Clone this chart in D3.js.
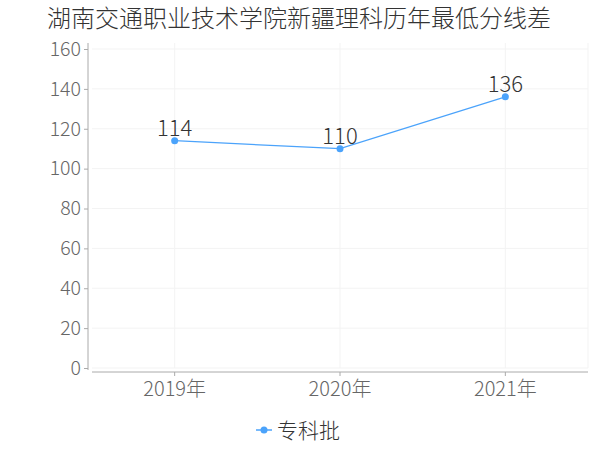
<!DOCTYPE html>
<html><head><meta charset="utf-8">
<script src="https://cdn.jsdelivr.net/npm/d3@7/dist/d3.min.js"></script>
<style>body{margin:0;background:#fff;}svg{display:block;font-family:"Noto Sans CJK SC","Noto Sans",sans-serif;}</style>
</head><body>
<svg id="c" width="600" height="450"></svg>
<script>
const title = "湖南交通职业技术学院新疆理科历年最低分线差";
const categories = ["2019年", "2020年", "2021年"];
const values = [114, 110, 136];
const seriesName = "专科批";
const yTicks = [0, 20, 40, 60, 80, 100, 120, 140, 160];

const svg = d3.select("#c");
const color = "#4ba3fb";
const x = d3.scaleBand().domain(categories).range([92, 588]);
const y = d3.scaleLinear().domain([0, 160]).range([368, 49]);
const FF = "Noto Sans CJK SC, sans-serif";

// title
svg.append("text").attr("x", 299).attr("y", 27).attr("text-anchor", "middle")
  .attr("font-size", 24).attr("font-weight", 300).attr("fill", "#333").text(title);

// grid
const g = svg.append("g");
g.selectAll(".hg").data(yTicks).enter().append("line")
  .attr("x1", 92).attr("x2", 588).attr("y1", d => y(d)).attr("y2", d => y(d))
  .attr("stroke", "#f3f3f3").attr("stroke-width", 1);
g.selectAll(".vg").data(categories).enter().append("line")
  .attr("x1", d => x(d) + x.bandwidth() / 2).attr("x2", d => x(d) + x.bandwidth() / 2)
  .attr("y1", 43).attr("y2", 368).attr("stroke", "#f3f3f3");
g.append("line").attr("x1", 588).attr("x2", 588).attr("y1", 43).attr("y2", 368).attr("stroke", "#f3f3f3");

// y axis
const ya = svg.append("g").attr("transform", "translate(88,0)")
  .call(d3.axisLeft(y).tickValues(yTicks).tickSize(4).tickPadding(3));
ya.select(".domain").attr("stroke", "#aaa").attr("d", "M0,43V370");
ya.selectAll(".tick line").attr("stroke", "#aaa");
ya.selectAll("text").attr("fill", "#666").attr("font-size", 19.5).attr("font-weight", 300).attr("font-family", FF);

// x axis
const xa = svg.append("g").attr("transform", "translate(0,372)")
  .call(d3.axisBottom(x).tickSize(4).tickPadding(6));
xa.select(".domain").attr("stroke", "#aaa").attr("d", "M92,0H588");
xa.selectAll(".tick line").attr("stroke", "#aaa");
xa.selectAll("text").attr("fill", "#666").attr("font-size", 20).attr("font-weight", 300).attr("font-family", FF);

// line
const cx = d => x(d) + x.bandwidth() / 2;
const data = categories.map((c, i) => ({c, v: values[i]}));
svg.append("path").datum(data)
  .attr("d", d3.line().x(d => cx(d.c)).y(d => y(d.v)))
  .attr("fill", "none").attr("stroke", color).attr("stroke-width", 1.2);
svg.selectAll(".pt").data(data).enter().append("circle")
  .attr("cx", d => cx(d.c)).attr("cy", d => y(d.v)).attr("r", 3.5).attr("fill", color);
svg.selectAll(".lbl").data(data).enter().append("text")
  .attr("x", d => cx(d.c)).attr("y", d => y(d.v) - 5).attr("text-anchor", "middle")
  .attr("font-size", 22).attr("font-weight", 300).attr("fill", "#333").text(d => d.v);

// legend
svg.append("line").attr("x1", 256).attr("x2", 272).attr("y1", 430).attr("y2", 430)
  .attr("stroke", color).attr("stroke-width", 1.5);
svg.append("circle").attr("cx", 264).attr("cy", 430).attr("r", 3.5).attr("fill", color);
svg.append("text").attr("x", 277).attr("y", 438).attr("font-size", 21).attr("font-weight", 300).attr("fill", "#333").text(seriesName);
</script>
</body></html>
